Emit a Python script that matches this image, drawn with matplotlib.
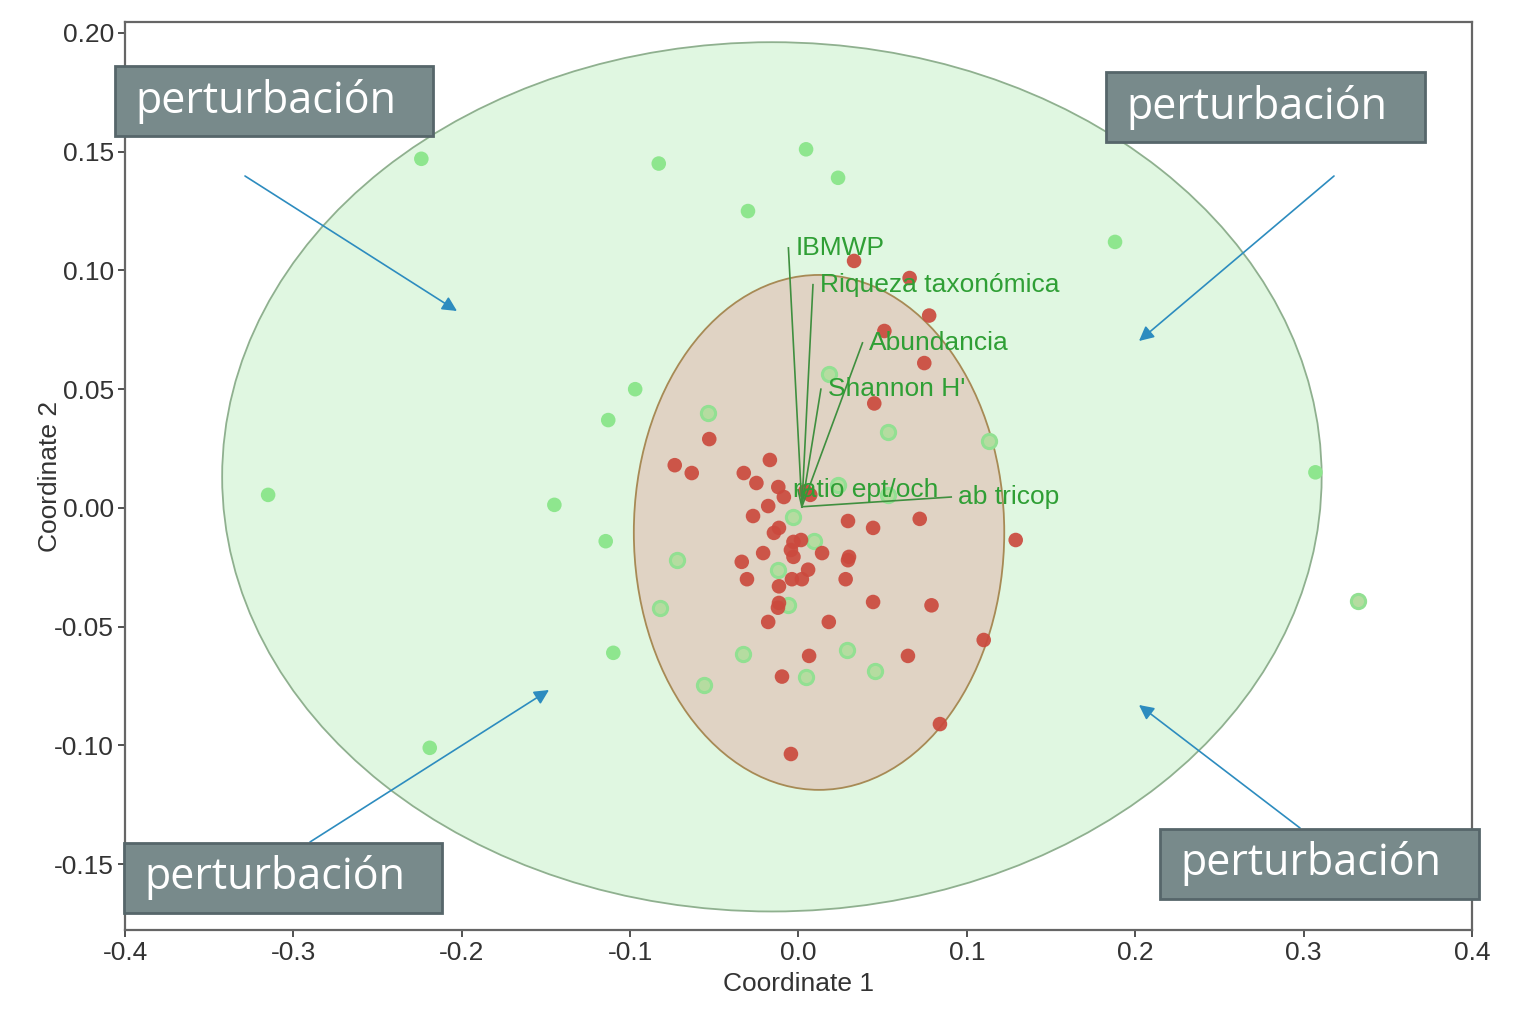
import numpy as np
import matplotlib
matplotlib.use('Agg')
import matplotlib.pyplot as plt
from matplotlib.patches import Ellipse, Rectangle

# ---------------------------------------------------------------------------
# Data
# ---------------------------------------------------------------------------

# green group, points outside the inner ellipse (solid)
green_out_x = [-0.224, -0.083, 0.0045, 0.0235, -0.030, 0.188, -0.097, -0.113,
               -0.315, -0.145, -0.1145, -0.110, -0.219, 0.307]
green_out_y = [0.147, 0.145, 0.151, 0.139, 0.125, 0.112, 0.050, 0.037,
               0.0055, 0.0013, -0.014, -0.061, -0.101, 0.015]

# green group, ring-looking points
green_ring_x = [0.018, -0.054, 0.053, 0.113, 0.0235, 0.053, -0.003, 0.009,
                -0.072, -0.012, -0.082, -0.006, -0.033, 0.029, 0.0045,
                0.0455, -0.056, 0.332]
green_ring_y = [0.0564, 0.040, 0.032, 0.028, 0.0097, 0.0055, -0.004, -0.014,
                -0.022, -0.026, -0.042, -0.041, -0.0615, -0.060, -0.071,
                -0.0686, -0.0745, -0.039]

# red group
red_x = [0.033, 0.066, 0.0776, 0.051, 0.0747, 0.045, -0.053, -0.0735, -0.0634,
         -0.017, -0.0325, -0.025, -0.012, 0.007, -0.0087, -0.018, -0.027,
         0.0294, 0.0443, 0.072, 0.129, -0.0116, -0.0146, -0.003, 0.0015,
         -0.0045, -0.003, -0.021, 0.014, 0.030, 0.0294, -0.0337, 0.0057,
         -0.0306, -0.0039, 0.002, 0.028, -0.0116, -0.0116, -0.0122, 0.0443,
         0.079, -0.018, 0.018, 0.110, 0.0063, 0.065, -0.0098, 0.084, -0.0045,
         0.004]
red_y = [0.104, 0.0968, 0.081, 0.0745, 0.061, 0.044, 0.029, 0.018, 0.0147,
         0.0202, 0.0147, 0.0105, 0.0088, 0.0055, 0.0046, 0.0008, -0.0034,
         -0.0055, -0.0084, -0.0046, -0.0135, -0.0084, -0.0105, -0.0143, -0.0135,
         -0.0177, -0.0206, -0.019, -0.019, -0.0206, -0.022, -0.0227, -0.026,
         -0.030, -0.030, -0.030, -0.030, -0.033, -0.040, -0.042, -0.0396,
         -0.041, -0.048, -0.048, -0.0556, -0.0623, -0.0623, -0.071, -0.091,
         -0.1036, 0.007]

# biplot vectors (end points) and their labels
vec_names = ['IBMWP', 'Riqueza taxonómica', 'Abundancia', "Shannon H'",
             'ratio ept/och', 'ab tricop']
vec_x = [-0.006, 0.0086, 0.038, 0.0133, -0.0003, 0.0907]
vec_y = [0.1095, 0.094, 0.0695, 0.050, 0.0076, 0.0046]
lab_dx = [0.004, 0.004, 0.004, 0.004, -0.003, 0.004]

# 95% ellipses: centre x, centre y, width, height
green_ell = (-0.0158, 0.0131, 0.653, 0.366)
red_ell = (0.0122, -0.0103, 0.220, 0.2168)

# annotation boxes (figure pixels, top-left origin): x0, y0, x1, y1
box_text = 'perturbación'
boxes = [(115, 66, 433, 136), (1106, 72, 1425, 142),
         (124, 843, 442, 913), (1160, 829, 1479, 899)]
# arrows (figure pixels): start -> end
arrows = [((245, 176), (457, 311)), ((1334, 176), (1139, 341)),
          ((310, 842), (549, 690)), ((1300, 828), (1139, 705))]

# ---------------------------------------------------------------------------
# Plot
# ---------------------------------------------------------------------------

plt.rcParams['font.family'] = ['Liberation Sans', 'DejaVu Sans']

W, H = 1519, 1030
fig = plt.figure(figsize=(W / 100, H / 100), dpi=100)
ax = fig.add_axes([125 / W, 1 - 930 / H, (1472 - 125) / W, (930 - 22) / H])

ax.add_patch(Ellipse(green_ell[:2], green_ell[2], green_ell[3],
                     facecolor='#e0f7e1', edgecolor='#8fb08f', lw=1.3, zorder=1))
ax.add_patch(Ellipse(red_ell[:2], red_ell[2], red_ell[3],
                     facecolor='#e0d3c4', edgecolor='#a78a55', lw=1.3, zorder=2))

ax.scatter(green_out_x, green_out_y, s=110, color='#8ee68e', edgecolors='none',
           zorder=3)
ax.scatter(green_ring_x, green_ring_y, s=105, facecolor='#b5dca0',
           edgecolors='#92e092', linewidths=2.2, zorder=3)
ax.scatter(red_x, red_y, s=110, color='#cb4a3e', alpha=0.92, edgecolors='none',
           zorder=4)

ox, oy = 0.002, 0.0005
for name, vx, vy, dx in zip(vec_names, vec_x, vec_y, lab_dx):
    ax.plot([ox, vx], [oy, vy], color='#3f8f3f', lw=1.2, zorder=5)
    ax.text(vx + dx, vy, name, color='#2f9f35', fontsize=19,
            va='center', ha='left', zorder=6)

ax.set_xlim(-0.4, 0.4)
ax.set_ylim(-0.1777, 0.2046)
ax.set_xticks(np.arange(-0.4, 0.41, 0.1))
ax.set_xticklabels(['-0.4', '-0.3', '-0.2', '-0.1', '0.0', '0.1', '0.2',
                    '0.3', '0.4'])
ax.set_yticks([-0.15, -0.10, -0.05, 0.0, 0.05, 0.10, 0.15, 0.20])
ax.set_yticklabels(['-0.15', '-0.10', '-0.05', '0.00', '0.05', '0.10',
                    '0.15', '0.20'])
ax.tick_params(labelsize=19, colors='#333333', length=5, width=1.2, pad=3)
for sp in ax.spines.values():
    sp.set_color('#666666')
    sp.set_linewidth(1.6)
ax.set_xlabel('Coordinate 1', fontsize=19, color='#333333')
ax.set_ylabel('Coordinate 2', fontsize=19, color='#333333')
ax.xaxis.set_label_coords(0.5, -0.046)
ax.yaxis.set_label_coords(-0.047, 0.5)

# annotation arrows and boxes in figure pixels
for (x0, y0), (x1, y1) in arrows:
    ax.annotate('', xy=(x1, H - y1), xycoords='figure pixels',
                xytext=(x0, H - y0), textcoords='figure pixels',
                arrowprops=dict(arrowstyle='-|>', color='#2d8cbf', lw=1.2,
                                mutation_scale=22, shrinkA=0, shrinkB=0),
                zorder=7)

for x0, y0, x1, y1 in boxes:
    fig.add_artist(Rectangle((x0 / W, 1 - y1 / H), (x1 - x0) / W,
                             (y1 - y0) / H, transform=fig.transFigure,
                             facecolor='#788a8b', edgecolor='#56666a', lw=2,
                             zorder=8))
    fig.text((x0 + 20) / W, 1 - (y0 + y1) / 2 / H, box_text, color='white',
             fontsize=31, family='Open Sans', va='center', ha='left', zorder=9)

fig.savefig('out.png', dpi=100)
